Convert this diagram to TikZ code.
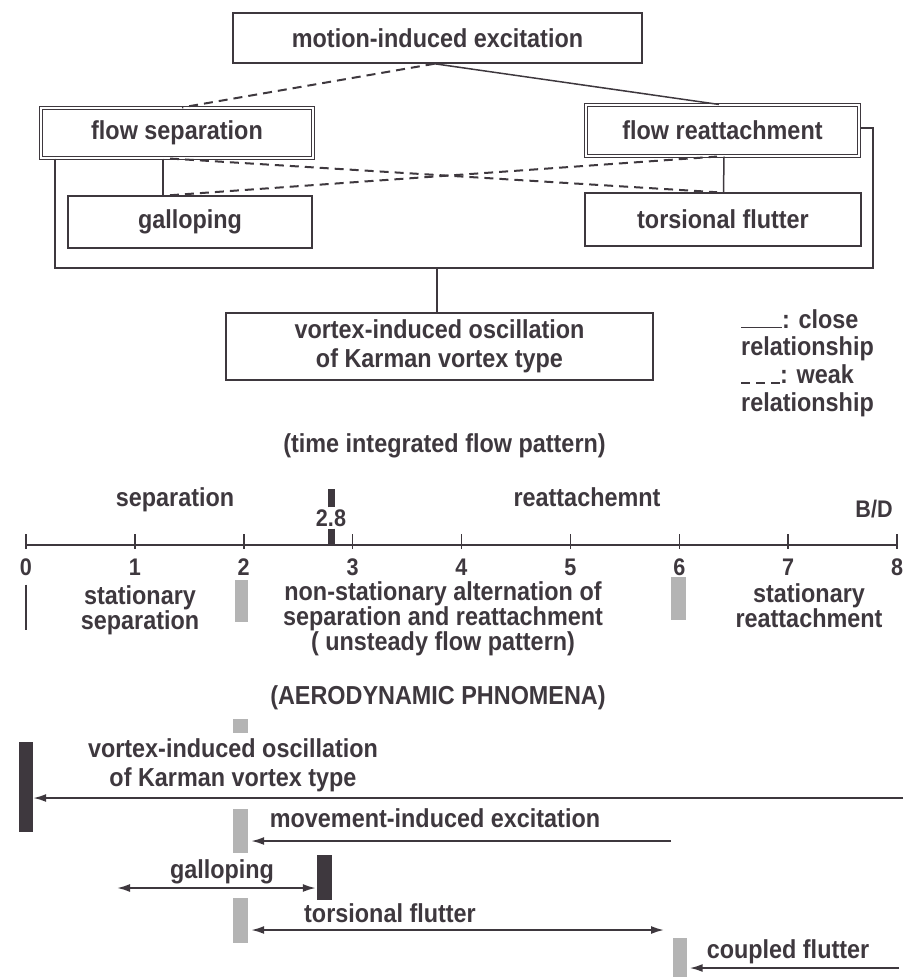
\documentclass[tikz,border=0pt]{standalone}
\usepackage{fontspec}
\setmainfont{Liberation Sans}[FakeStretch=0.9]
\usetikzlibrary{arrows.meta}

\definecolor{ink}{RGB}{62,56,62}
\definecolor{screen}{RGB}{180,180,180}

\newcommand{\boxfont}{\fontsize{26}{29}\selectfont\bfseries}
\newcommand{\axfont}{\fontsize{26}{24}\selectfont\bfseries}
\newcommand{\legfont}{\fontsize{26}{27.7}\selectfont\bfseries}
\newcommand{\numfont}{\fontsize{24}{24}\selectfont\bfseries}
\newcommand{\legdash}{\rule{9pt}{1.5pt}\hspace{6pt}\rule{9pt}{1.5pt}\hspace{6pt}\rule{9pt}{1.5pt}}

\tikzset{
  chartbox/.style={draw=ink, line width=1.5pt, inner sep=0pt, text=ink, font=\boxfont, align=center},
  dblbox/.style={chartbox, double, line width=1.1pt, double distance=1.6pt},
  close rel/.style={draw=ink, line width=1.5pt},
  weak rel/.style={draw=ink, line width=2pt, dash pattern=on 9pt off 6pt},
  lbl/.style={inner sep=0pt, text=ink, font=\axfont, align=center},
  num/.style={lbl, font=\numfont},
  axtick/.style={draw=ink, line width=1.5pt},
  greybar/.style={fill=screen, inner sep=0pt},
  blackbar/.style={fill=ink, inner sep=0pt},
  rangearrow/.style={draw=ink, line width=1.8pt, -{Latex[length=13pt,width=8pt]}},
  dblrange/.style={rangearrow, {Latex[length=13pt,width=8pt]}-{Latex[length=13pt,width=8pt]}}
}

\begin{document}
\begin{tikzpicture}[x=1pt, y=-1pt]
\useasboundingbox (0,0) rectangle (906,977);

% Relationship chart
\node[chartbox, minimum width=409pt, minimum height=50pt] (mie) at (437.5,38) {motion-induced excitation};
\node[dblbox, minimum width=272pt, minimum height=50pt] (fsep) at (177,133) {flow separation};
\node[dblbox, minimum width=273pt, minimum height=51pt] (frea) at (722.5,130.5) {flow reattachment};
\node[chartbox, minimum width=244pt, minimum height=52pt] (gal) at (190,222) {galloping};
\node[chartbox, minimum width=276pt, minimum height=53pt] (tflut) at (723,219.5) {torsional flutter};
\node[chartbox, minimum width=427pt, minimum height=67pt] (vio) at (439.5,346.5) {vortex-induced oscillation\\of Karman vortex type};

\draw[weak rel] ([xshift=-3pt]mie.south) -- ([xshift=5pt]fsep.north);
\draw[close rel] ([xshift=-3pt]mie.south) -- ([xshift=-3.5pt]frea.north);
\draw[close rel] ([xshift=-14pt]fsep.south) -- ([xshift=-27pt]gal.north);
\draw[close rel] ([xshift=1.5pt]frea.south) -- ([xshift=0.5pt]tflut.north);
\draw[weak rel] ([xshift=-7pt]fsep.south) -- ([xshift=-6pt]tflut.north);
\draw[weak rel] ([xshift=-20pt]gal.north) -- ([xshift=-5.5pt]frea.south);

% common line down to the Karman vortex box
\coordinate (busL) at (55,268);
\coordinate (busR) at (873,268);
\coordinate (drop) at (437,268);
\draw[close rel] ([xshift=-122pt]fsep.south) -- (busL) -- (busR) |- ([yshift=2.5pt]frea.east);
\draw[close rel] (drop) -- (drop |- vio.north);

% Legend
\node[lbl, font=\legfont, align=left, anchor=west] (leg) at (741,363) {\rule{41pt}{1.5pt}: close\\relationship\\\legdash: weak\\relationship};

% Flow pattern over B/D
\node[lbl] (tifp) at (444.5,446) {(time integrated flow pattern)};
\coordinate (axL) at (26,545);
\coordinate (axR) at (897,545);
\draw[ink, line width=2.6pt] (axL) -- (axR);
\foreach \k in {0,...,8} {
  \draw[axtick] (26+108.875*\k,534) -- ++(0,15);
  \node[num] (n\k) at (26+108.875*\k,567) {\k};
}
\draw[axtick] ([yshift=-9pt]n0.south) -- ++(0,45);

\node[num] (m28) at (331,518) {2.8};
\draw[ink, line width=7pt] ([yshift=2pt]m28.north) -- ++(0,-18);
\draw[ink, line width=7pt] ([yshift=-2pt]m28.south) -- (m28.south |- axL);

\node[lbl] (sep) at (175,500) {separation};
\node[lbl] (rea) at (587,497) {reattachemnt};
\node[num] (bd) at (874,509) {B/D};

\node[greybar, minimum width=13pt, minimum height=42pt] (ga2) at (241.5,601) {};
\node[greybar, minimum width=15pt, minimum height=43pt] (ga6) at (678.5,598.5) {};
\node[lbl] (ssep) at (140,610) {stationary\\separation};
\node[lbl] (nsta) at (443,619) {non-stationary alternation of\\separation and reattachment\\( unsteady flow pattern)};
\node[lbl] (srea) at (809,605.5) {stationary\\reattachment};

% Aerodynamic phenomena
\node[lbl] (aero) at (438,698) {(AERODYNAMIC PHNOMENA)};
\node[greybar, minimum width=15pt, minimum height=14pt] (gb1) at (240.5,726) {};

\node[blackbar, minimum width=14pt, minimum height=90pt] (bb1) at (26,787) {};
\node[lbl, font=\boxfont] (lvio) at (233,765) {vortex-induced oscillation\\of Karman vortex type};
\coordinate (vioR) at (903,798);
\draw[rangearrow] (vioR) -- (vioR -| bb1.east);

\node[greybar, minimum width=15pt, minimum height=44pt] (gb2) at (240.5,831) {};
\node[lbl] (lmie) at (435,818) {movement-induced excitation};
\coordinate (mieR) at (671,841);
\draw[rangearrow, shorten >=3pt] (mieR) -- (mieR -| gb2.east);

\node[blackbar, minimum width=15pt, minimum height=45pt] (bb2) at (324.5,877.5) {};
\node[lbl] (lgal) at (222,872) {galloping};
\coordinate (galL) at (117,888);
\draw[dblrange, shorten >=1pt] (galL) -- (galL -| bb2.west);

\node[greybar, minimum width=15pt, minimum height=45pt] (gb3) at (240.5,920.5) {};
\node[lbl] (ltf) at (390,913) {torsional flutter};
\coordinate (tfR) at (664,930);
\draw[dblrange, shorten <=3pt] (tfR -| gb3.east) -- (tfR);

\node[greybar, minimum width=14pt, minimum height=42pt] (gb4) at (679.5,959) {};
\node[lbl] (lcf) at (788,952) {coupled flutter};
\coordinate (cfR) at (899,968);
\draw[rangearrow, shorten >=3pt] (cfR) -- (cfR -| gb4.east);
\end{tikzpicture}
\end{document}
